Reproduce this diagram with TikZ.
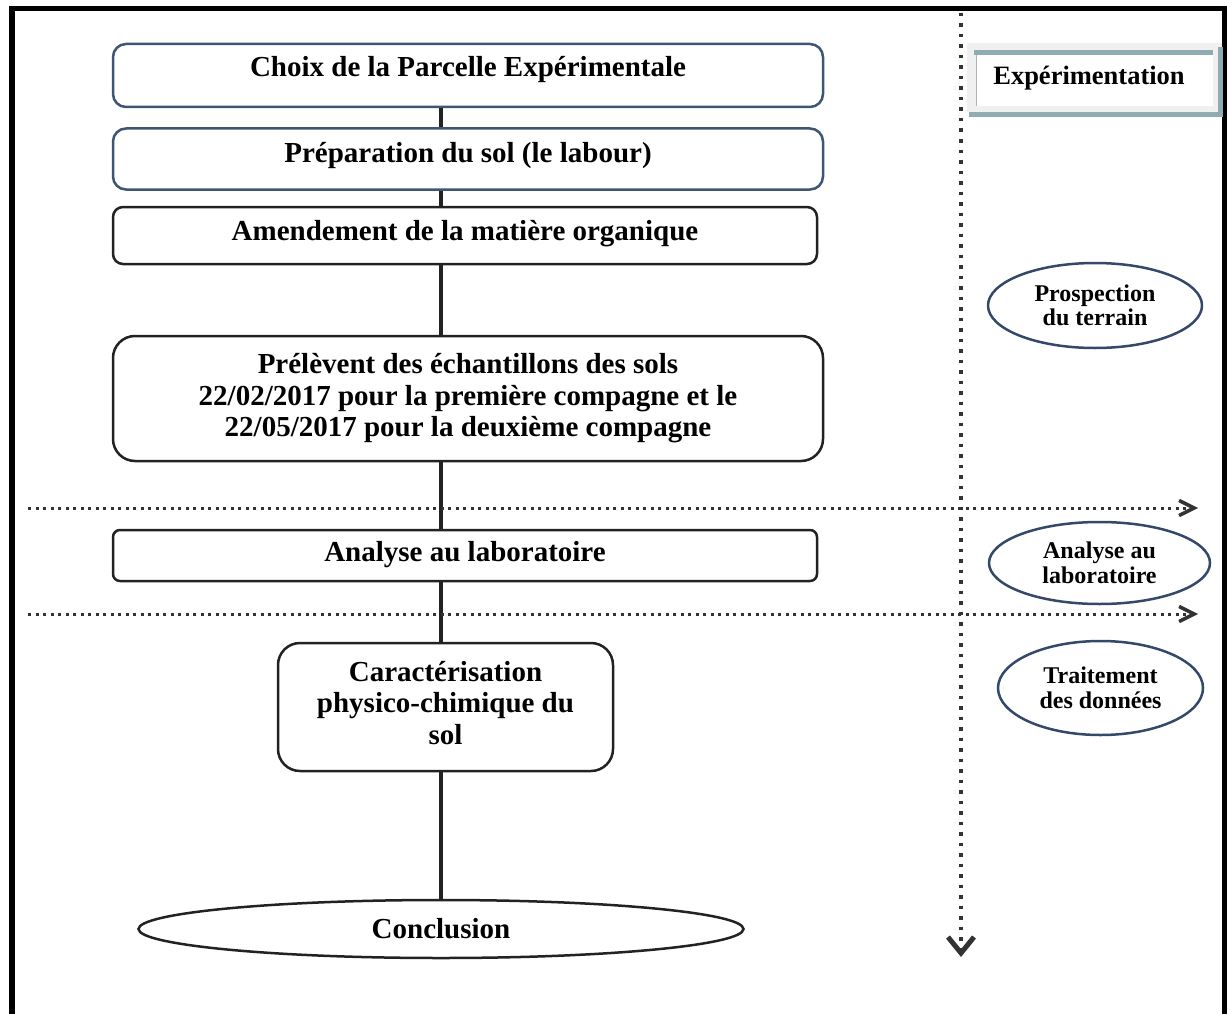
\documentclass[tikz,border=0pt]{standalone}
\usepackage{fontspec}
\setmainfont{Liberation Serif}
\usetikzlibrary{arrows.meta,shapes.geometric}
\definecolor{boxblue}{HTML}{3E5573}
\definecolor{ellblue}{HTML}{34496A}
\definecolor{dark}{HTML}{222222}
\definecolor{dotgray}{HTML}{333333}
\definecolor{barblue}{HTML}{8FABB3}
\definecolor{lightgray}{HTML}{F0F0F0}
\tikzset{
  mainfont/.style={font=\fontsize{29}{31.5}\selectfont\bfseries, text=black},
  onebox/.style={mainfont, draw=dark, line width=2.5pt, rounded corners=10pt,
    inner sep=0pt, text height=12pt, text depth=8pt},
  bluebox/.style={onebox, draw=boxblue, rounded corners=13pt},
  bigbox/.style={mainfont, draw=dark, line width=2.5pt, rounded corners=22pt,
    inner sep=0pt, align=center},
  sideell/.style={ellipse, draw=ellblue, line width=2.5pt, inner sep=0pt,
    font=\fontsize{24}{24.5}\selectfont\bfseries, align=center, text=black},
  conn/.style={line width=4pt, draw=dark},
  vdots/.style={line width=4pt, draw=dotgray, dash pattern=on 3.5pt off 7pt},
  hdots/.style={line width=3pt, draw=dotgray, dash pattern=on 3pt off 4.5pt},
}
\begin{document}
\begin{tikzpicture}[x=1pt,y=-1pt]
\useasboundingbox (0,0) rectangle (1228,1014);
% outer frame
\draw[line width=5.5pt, black] (12,1014) -- (12,8.5) -- (1224.5,8.5) -- (1224.5,1014);

\coordinate (axis) at (440.5,0);

% main boxes
\node[bluebox, text depth=9pt, minimum width=710pt, minimum height=63pt] (b1) at (468,75.5) {Choix de la Parcelle Expérimentale};
\node[bluebox, text depth=5pt, minimum width=710pt, minimum height=61pt] (b2) at (468,159) {Préparation du sol (le labour)};
\node[onebox, text depth=2pt, minimum width=704pt, minimum height=57pt] (b3) at (465,235.5) {Amendement de la matière organique};
\node[bigbox, minimum width=710pt, minimum height=125pt] (b4) at (468,398.5) {Prélèvent des échantillons des sols\\22/02/2017 pour la première compagne et le\\22/05/2017 pour la deuxième compagne};
\node[onebox, text depth=0pt, rounded corners=7pt, minimum width=704pt, minimum height=51pt] (b5) at (465,555.5) {Analyse au laboratoire};
\node[bigbox, text depth=9pt, minimum width=335pt, minimum height=128pt] (b6) at (445.5,707) {Caractérisation\\physico-chimique du\\sol};
\node[ellipse, draw=dark, line width=2.5pt, inner sep=0pt, mainfont, minimum width=605pt, minimum height=58pt] (concl) at (441,929) {Conclusion};

% connectors
\draw[conn] (b1.south -| axis) -- (b2.north -| axis);
\draw[conn] (b2.south -| axis) -- (b3.north -| axis);
\draw[conn] (b3.south -| axis) -- (b4.north -| axis);
\draw[conn] (b4.south -| axis) -- (b5.north -| axis);
\draw[conn] (b5.south -| axis) -- (b6.north -| axis);
\draw[conn] (b6.south -| axis) -- (concl.north -| axis);

% dotted separators
\coordinate (vtop) at (961,13);
\coordinate (vbot) at (961,957);
\coordinate (h1l) at (28,508);
\coordinate (h1r) at (1198,508);
\coordinate (h2l) at (28,614);
\coordinate (h2r) at (1198,614);
\draw[vdots, -{Straight Barb[length=16pt,width=26pt,line width=5pt]}] (vtop) -- (vbot);
\draw[hdots, -{Straight Barb[length=15pt,width=15pt,line width=3.5pt]}] (h1l) -- (h1r);
\draw[hdots, -{Straight Barb[length=15pt,width=15pt,line width=3.5pt]}] (h2l) -- (h2r);

% Expérimentation label box
\fill[lightgray] (967,43) rectangle (1222,112);
\fill[white] (976,53) rectangle (1213,106);
\draw[line width=1pt, gray!60] (976,53) -- (976,106);
\draw[line width=5pt, barblue] (974,52.5) -- (1213,52.5);
\draw[line width=5pt, barblue] (969,114.5) -- (1223,114.5);
\draw[line width=5pt, barblue] (1220.5,47) -- (1220.5,117);
\node[font=\fontsize{26.5}{28}\selectfont\bfseries, inner sep=0pt, anchor=base] (exp) at (1089,85) {Expérimentation};

% side ellipses
\node[sideell, minimum width=214pt, minimum height=85pt] (e1) at (1095,305.5) {Prospection\\du terrain};
\node[sideell, minimum width=221pt, minimum height=82pt] (e2) at (1099.5,563) {Analyse au\\laboratoire};
\node[sideell, minimum width=205pt, minimum height=94pt] (e3) at (1100.5,688) {Traitement\\des données};
\end{tikzpicture}
\end{document}
